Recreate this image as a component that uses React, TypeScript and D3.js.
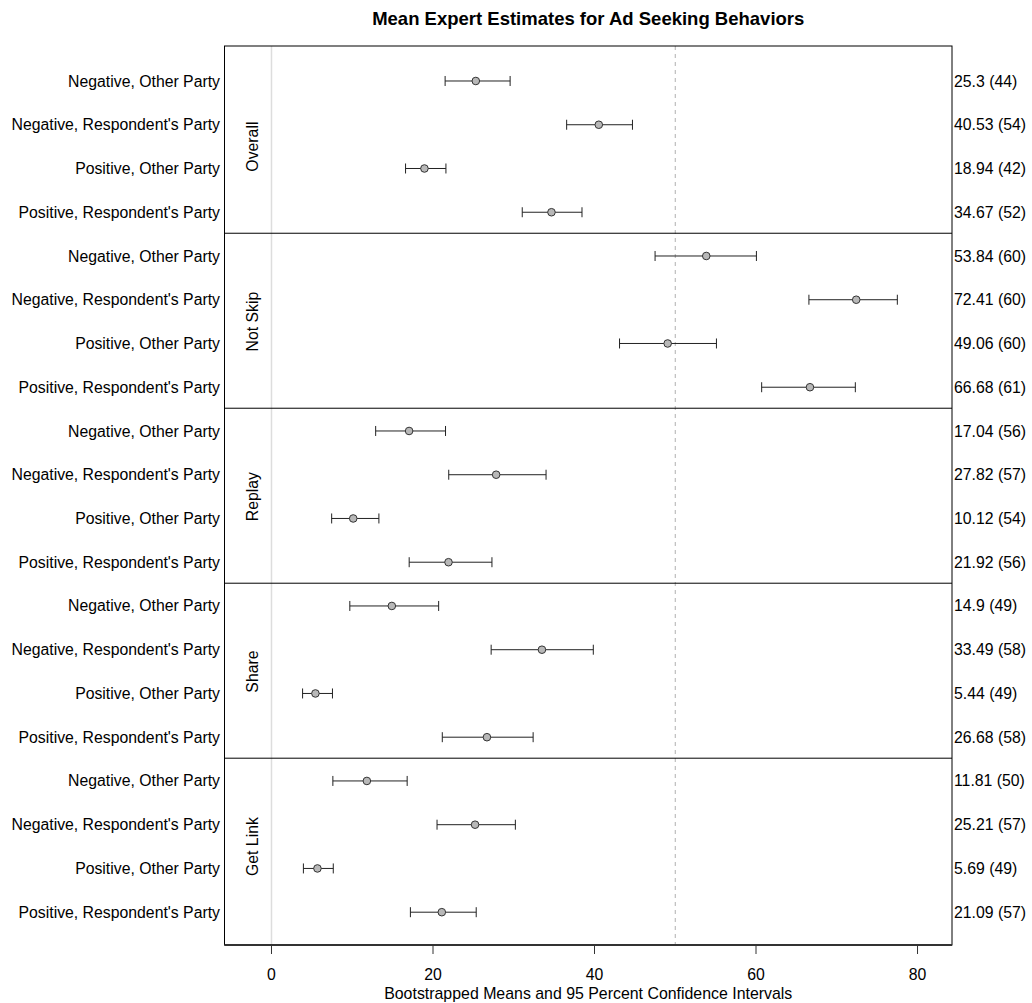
import React from 'react';
import * as d3 from 'd3';

const panels = ['Overall', 'Not Skip', 'Replay', 'Share', 'Get Link'];
const conditions = [
  'Negative, Other Party',
  "Negative, Respondent's Party",
  'Positive, Other Party',
  "Positive, Respondent's Party",
];
// 5 panels x 4 conditions, in drawing order
const means = [
  25.3, 40.53, 18.94, 34.67,
  53.84, 72.41, 49.06, 66.68,
  17.04, 27.82, 10.12, 21.92,
  14.9, 33.49, 5.44, 26.68,
  11.81, 25.21, 5.69, 21.09,
];
const counts = [
  44, 54, 42, 52,
  60, 60, 60, 61,
  56, 57, 54, 56,
  49, 58, 49, 58,
  50, 57, 49, 57,
];
const lower = [
  21.5, 36.55, 16.6, 31.05,
  47.5, 66.55, 43.1, 60.7,
  12.9, 21.95, 7.45, 17.05,
  9.7, 27.2, 3.85, 21.15,
  7.6, 20.5, 3.95, 17.2,
];
const upper = [
  29.55, 44.7, 21.6, 38.45,
  60.05, 77.5, 55.1, 72.3,
  21.55, 34.0, 13.3, 27.3,
  20.7, 39.85, 7.55, 32.4,
  16.8, 30.2, 7.65, 25.35,
];
const xTicks = [0, 20, 40, 60, 80];

const W = 1032;
const H = 1003;
const left = 224.5;
const right = 952;
const top = 46;
const bottom = 945;
const font = '"Liberation Sans", Arial, Helvetica, sans-serif';
const fs = 15.8;

const App = () => {
  const x = d3.scaleLinear().domain([-5.82, 84.27]).range([left, right]);
  const y = d3.scaleLinear().domain([-0.8, 19.75]).range([top, bottom]);

  const rows = means.map((m, i) => ({
    i,
    mean: m,
    lo: lower[i],
    hi: upper[i],
    n: counts[i],
    label: conditions[i % 4],
  }));

  return (
    <svg
      width={W}
      height={H}
      style={{ position: 'absolute', left: 0, top: 0, background: '#fff' }}
      fontFamily={font}
    >
      <text x={(left + right) / 2} y={25} textAnchor="middle" fontWeight="bold" fontSize={18.5}>
        Mean Expert Estimates for Ad Seeking Behaviors
      </text>

      {/* reference lines */}
      <line x1={x(0)} x2={x(0)} y1={top} y2={bottom} stroke="#dddddd" strokeWidth={1.5} />
      <line x1={x(50)} x2={x(50)} y1={top} y2={bottom} stroke="#b0b0b0" strokeDasharray="4,4" />

      {/* panel separators */}
      {panels.slice(1).map((p, k) => (
        <line key={p} x1={left} x2={right} y1={y((k + 1) * 4 - 0.52)} y2={y((k + 1) * 4 - 0.52)} stroke="#000" />
      ))}

      {/* panel names */}
      {panels.map((p, k) => (
        <text key={p} transform={`translate(258,${y(k * 4 + 1.5)}) rotate(-90)`} textAnchor="middle" fontSize={fs}>
          {p}
        </text>
      ))}

      {/* error bars */}
      {rows.map((d) => (
        <g key={d.i} stroke="#222" strokeWidth={1}>
          <line x1={x(d.lo)} x2={x(d.hi)} y1={y(d.i)} y2={y(d.i)} />
          <line x1={x(d.lo)} x2={x(d.lo)} y1={y(d.i) - 5} y2={y(d.i) + 5} />
          <line x1={x(d.hi)} x2={x(d.hi)} y1={y(d.i) - 5} y2={y(d.i) + 5} />
          <circle cx={x(d.mean)} cy={y(d.i)} r={3.8} fill="#b8b8b8" stroke="#333" />
        </g>
      ))}

      {/* row labels */}
      {rows.map((d) => (
        <text key={'l' + d.i} x={220} y={y(d.i)} dy="0.35em" textAnchor="end" fontSize={fs}>
          {d.label}
        </text>
      ))}
      {rows.map((d) => (
        <text key={'r' + d.i} x={954} y={y(d.i)} dy="0.35em" textAnchor="start" fontSize={fs}>
          {`${d.mean} (${d.n})`}
        </text>
      ))}

      {/* frame */}
      <rect x={left} y={top} width={right - left} height={bottom - top} fill="none" stroke="#000" />
      <line x1={left} x2={right} y1={bottom} y2={bottom} stroke="#333" strokeWidth={2} />

      {/* x axis */}
      {xTicks.map((t) => (
        <g key={t}>
          <line x1={x(t)} x2={x(t)} y1={bottom} y2={bottom + 9} stroke="#333" />
          <text x={x(t)} y={974} dy="0.35em" textAnchor="middle" fontSize={fs}>
            {t}
          </text>
        </g>
      ))}
      <text x={(left + right) / 2} y={993} dy="0.35em" textAnchor="middle" fontSize={15.9}>
        Bootstrapped Means and 95 Percent Confidence Intervals
      </text>
    </svg>
  );
};

export default App;
